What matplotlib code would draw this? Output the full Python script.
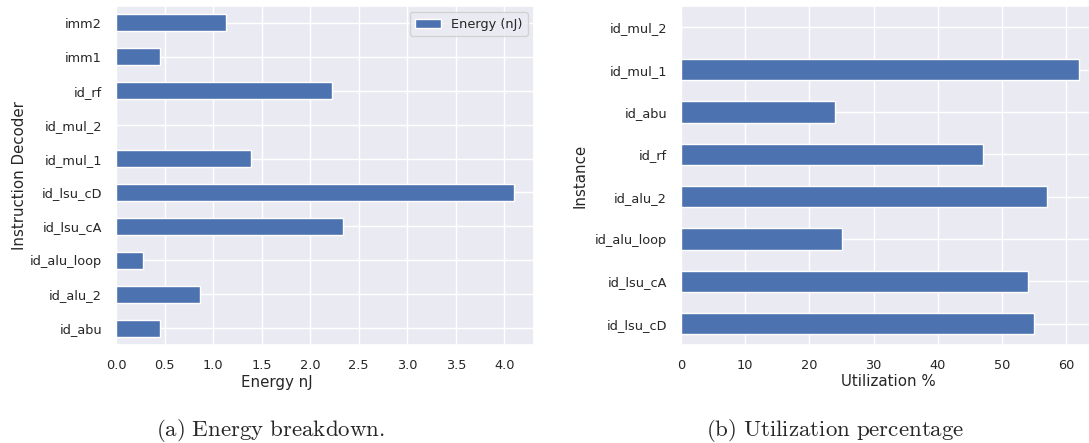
import matplotlib
matplotlib.use("Agg")
import matplotlib.pyplot as plt
import seaborn as sns

sns.set_theme(style="darkgrid")
plt.rcParams['font.family'] = ['DejaVu Sans']
plt.rcParams['mathtext.fontset'] = 'cm'

energy_labels = ["id_abu", "id_alu_2", "id_alu_loop", "id_lsu_cA", "id_lsu_cD",
                 "id_mul_1", "id_mul_2", "id_rf", "imm1", "imm2"]
energy_values = [0.45, 0.865, 0.28, 2.34, 4.10, 1.39, 0.0, 2.22, 0.45, 1.135]

util_labels = ["id_lsu_cD", "id_lsu_cA", "id_alu_loop", "id_alu_2", "id_rf",
               "id_abu", "id_mul_1", "id_mul_2"]
util_values = [55, 54, 25, 57, 47, 24, 62, 0]

bar_color = "#4C72B0"
tick_fs = 9.3
label_fs = 10.8

fig = plt.figure(figsize=(10.89, 4.43), dpi=100)
ax1 = fig.add_axes([116/1089, 98/443, 418/1089, 339/443])
ax2 = fig.add_axes([681/1089, 98/443, 418/1089, 339/443])

ypos1 = list(range(len(energy_labels)))
ax1.barh(ypos1, energy_values, height=0.5, color=bar_color, edgecolor="white",
         linewidth=1, label="Energy (nJ)")
ax1.set_yticks(ypos1)
ax1.set_yticklabels(energy_labels)
ax1.set_ylim(-0.5, len(energy_labels) - 0.5)
ax1.set_xlim(0, max(energy_values) * 1.05)
ax1.set_xticks([0.0, 0.5, 1.0, 1.5, 2.0, 2.5, 3.0, 3.5, 4.0])
ax1.set_xticklabels(["0.0", "0.5", "1.0", "1.5", "2.0", "2.5", "3.0", "3.5", "4.0"])
ax1.set_xlabel("Energy nJ", fontsize=label_fs, va="center")
ax1.set_ylabel("Instruction Decoder", fontsize=label_fs, va="center")
ax1.xaxis.set_label_coords((277 - 116) / 418, (345 - 382) / 339)
ax1.yaxis.set_label_coords((19.5 - 116) / 418, 0.5)
ax1.tick_params(labelsize=tick_fs, length=0, pad=10)
ax1.legend(loc="upper right", fontsize=tick_fs)

ypos2 = list(range(len(util_labels)))
ax2.barh(ypos2, util_values, height=0.5, color=bar_color, edgecolor="white",
         linewidth=1)
ax2.set_yticks(ypos2)
ax2.set_yticklabels(util_labels)
ax2.set_ylim(-0.5, len(util_labels) - 0.5)
ax2.set_xlim(0, max(util_values) * 1.05)
ax2.set_xticks([0, 10, 20, 30, 40, 50, 60])
ax2.set_xlabel("Utilization %", fontsize=label_fs, va="center")
ax2.set_ylabel("Instance", fontsize=label_fs, va="center")
ax2.xaxis.set_label_coords((888 - 681) / 418, (345 - 381) / 339)
ax2.yaxis.set_label_coords((580 - 681) / 418, 0.5)
ax2.tick_params(labelsize=tick_fs, length=0, pad=10)

fig.text(270/1089, 1 - 430/443, r"$\mathrm{(a)\ Energy\ breakdown.}$",
         ha="center", va="center", fontsize=16.5)
fig.text(835/1089, 1 - 430/443, r"$\mathrm{(b)\ Utilization\ percentage}$",
         ha="center", va="center", fontsize=16.5)

fig.savefig("out.png", dpi=100)
